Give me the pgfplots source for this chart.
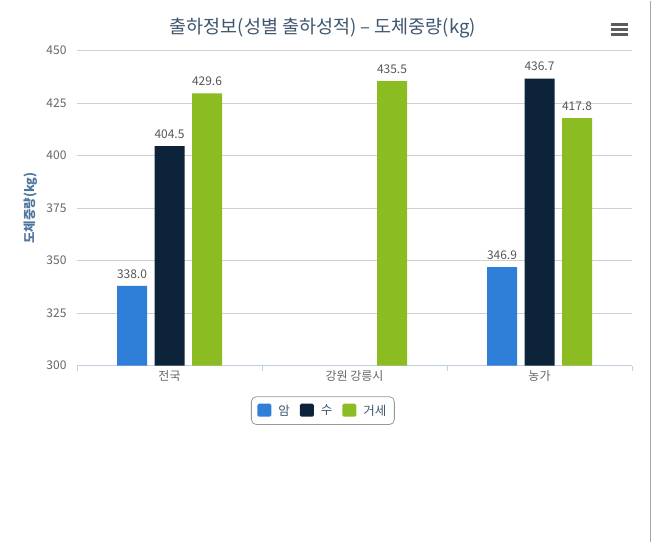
\documentclass[border=0pt]{standalone}
\usepackage{pgfplots}
\pgfplotsset{compat=1.18}
\usepackage{fontspec}
\setmainfont{Noto Sans CJK KR}
\definecolor{cA}{HTML}{2F7ED8}
\definecolor{cB}{HTML}{0D233A}
\definecolor{cC}{HTML}{8BBC21}
\definecolor{titlec}{HTML}{3E576F}
\definecolor{axtitle}{HTML}{4D759E}
\definecolor{lab}{HTML}{666666}
\definecolor{gridc}{HTML}{D0D0D0}
\definecolor{xline}{HTML}{C0D0E0}
\begin{document}
\begin{tikzpicture}
\fill[white] (0pt,0pt) rectangle (652pt,541pt);
\draw[gray!70, line width=1.2pt] (650.5pt,0pt) -- (650.5pt,541pt);
% menu icon
\foreach \yy in {507,512,517}{\draw[lab!90!black, line width=2.2pt] (611pt,\yy pt) -- (628pt,\yy pt);}
\begin{axis}[
  at={(77pt,176pt)}, anchor=south west,
  scale only axis, width=555pt, height=315pt,
  xmin=-0.5, xmax=2.5, ymin=300, ymax=450,
  ytick={300,325,350,375,400,425,450},
  xtick={-0.5,0.5,1.5,2.5}, xticklabels={},
  extra x ticks={0,1,2}, extra x tick labels={전국,강원 강릉시,농가},
  extra x tick style={major tick length=0pt, grid=none},
  major tick length=5pt,
  xtick style={xline, line width=0.8pt},
  ymajorgrids, grid style={gridc, line width=0.8pt},
  axis x line*=bottom, axis y line*=left,
  x axis line style={xline, line width=1pt, -},
  y axis line style={draw=none},
  ytick style={draw=none},
  tick align=outside,
  ticklabel style={font=\fontsize{12}{14}\selectfont, text=lab},
  /pgf/number format/assume math mode=true,
  yticklabel style={xshift=-2pt},
  xticklabel style={yshift=-1pt},
  ylabel={\textbf{도체중량(kg)}},
  ylabel style={font=\fontsize{12.5}{14}\selectfont, text=axtitle, xshift=0pt, yshift=2pt},
  ybar, bar width=30pt,
  nodes near coords,
  nodes near coords style={yshift=4pt, font=\fontsize{12}{14}\selectfont, text=lab!85!black, /pgf/number format/.cd, fixed, fixed zerofill, precision=1, assume math mode=true},
  legend columns=3,
  legend style={at={(axis description cs:0.443,-0.143)}, anchor=center, draw=gray!80, rounded corners=5pt, line width=0.8pt, font=\fontsize{12.5}{14}\selectfont, text=titlec, inner xsep=6pt, inner ysep=6pt,
    /tikz/every odd column/.append style={column sep=5pt},
    /tikz/every even column/.append style={column sep=8pt}},
  legend image code/.code={\fill[#1, draw=none, rounded corners=1.5pt] (0pt,-6pt) rectangle (14pt,7pt);},
  clip=false,
]
\addplot[fill=cA, draw=none, bar shift=-37.5pt] coordinates {(0,338.0) (2,346.9)};
\addplot[fill=cB, draw=none, bar shift=0pt] coordinates {(0,404.5) (2,436.7)};
\addplot[fill=cC, draw=none, bar shift=37.5pt] coordinates {(0,429.6) (1,435.5) (2,417.8)};
\legend{암,수,거세}
\end{axis}
\node[text=titlec, font=\fontsize{18.5}{21}\selectfont] at (323pt,513pt) {출하정보(성별 출하성적) – 도체중량(kg)};
\end{tikzpicture}
\end{document}
